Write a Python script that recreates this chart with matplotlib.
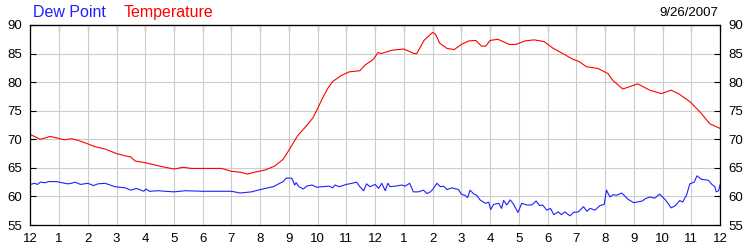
import matplotlib
matplotlib.use("Agg")
import matplotlib.pyplot as plt

plt.rcParams['font.family'] = ['Liberation Sans', 'DejaVu Sans']

hour_labels = ['12', '1', '2', '3', '4', '5', '6', '7', '8', '9', '10', '11',
               '12', '1', '2', '3', '4', '5', '6', '7', '8', '9', '10', '11', '12']
y_ticks = [55, 60, 65, 70, 75, 80, 85, 90]
date_text = "9/26/2007"

temp_hours = [0, 0.15, 0.34, 0.5, 0.69, 0.95, 1.18, 1.44, 1.67, 2.0, 2.25, 2.6, 3.0, 3.3, 3.5,
              3.65, 4.0, 4.34, 4.69, 5.0, 5.32, 5.61, 6.0, 6.31, 6.66, 7.0, 7.35, 7.56, 7.76,
              8.16, 8.5, 8.8, 9.0, 9.3, 9.53, 9.83, 10.0, 10.17, 10.35, 10.52, 10.8, 11.1,
              11.47, 11.65, 11.94, 12.1, 12.2, 12.6, 13.0, 13.35, 13.45, 13.7, 14.0, 14.1,
              14.25, 14.5, 14.75, 15.0, 15.25, 15.5, 15.7, 15.85, 16.0, 16.27, 16.67, 16.9,
              17.2, 17.53, 17.88, 18.17, 18.53, 18.88, 19.1, 19.35, 19.75, 20.1, 20.27,
              20.62, 20.85, 21.14, 21.55, 21.96, 22.3, 22.55, 22.95, 23.3, 23.65, 24.0]
temp_values = [70.8, 70.5, 70.0, 70.2, 70.5, 70.2, 69.9, 70.1, 69.8, 69.2, 68.7, 68.3, 67.5,
               67.1, 66.9, 66.2, 65.9, 65.5, 65.1, 64.8, 65.1, 64.9, 64.9, 64.9, 64.9, 64.4,
               64.2, 63.9, 64.2, 64.6, 65.3, 66.5, 68.1, 70.6, 71.9, 73.7, 75.4, 77.2, 78.9,
               80.1, 81.1, 81.8, 82.0, 83.0, 84.0, 85.2, 85.0, 85.6, 85.8, 85.0, 85.0, 87.3,
               88.7, 88.4, 86.8, 85.9, 85.7, 86.6, 87.2, 87.3, 86.3, 86.3, 87.3, 87.5, 86.6,
               86.6, 87.2, 87.4, 87.1, 86.0, 85.0, 84.0, 83.6, 82.7, 82.4, 81.5, 80.3, 78.8,
               79.2, 79.7, 78.6, 78.0, 78.6, 78.0, 76.6, 74.8, 72.7, 71.9]

dew_hours = [0, 0.15, 0.25, 0.35, 0.5, 0.65, 0.9, 1.1, 1.3, 1.44, 1.55, 1.75, 2.0, 2.2, 2.35,
             2.6, 2.95, 3.3, 3.5, 3.7, 3.95, 4.02, 4.15, 4.45, 4.7, 5.0, 5.4, 6.0, 6.5, 7.0,
             7.3, 7.7, 8.0, 8.45, 8.8, 8.9, 9.1, 9.2, 9.25, 9.35, 9.5, 9.62, 9.8, 9.97, 10.15,
             10.4, 10.52, 10.6, 10.75, 11.0, 11.2, 11.35, 11.47, 11.6, 11.7, 11.82, 12.0,
             12.12, 12.23, 12.35, 12.44, 12.52, 12.7, 12.93, 13.04, 13.2, 13.33, 13.5, 13.68,
             13.8, 13.92, 14.0, 14.15, 14.27, 14.38, 14.5, 14.67, 14.9, 15.0, 15.12, 15.22,
             15.3, 15.42, 15.53, 15.65, 15.83, 15.95, 16.02, 16.12, 16.3, 16.4, 16.47, 16.58,
             16.7, 16.82, 16.97, 17.1, 17.28, 17.45, 17.6, 17.72, 17.83, 17.97, 18.1, 18.22,
             18.37, 18.48, 18.6, 18.78, 18.9, 19.07, 19.25, 19.37, 19.48, 19.65, 19.82, 19.97,
             20.05, 20.17, 20.28, 20.4, 20.58, 20.8, 21.0, 21.3, 21.4, 21.56, 21.73, 21.9,
             22.1, 22.3, 22.45, 22.6, 22.7, 22.84, 22.95, 23.1, 23.2, 23.35, 23.5, 23.6,
             23.72, 23.82, 23.87, 23.95, 24.0]
dew_values = [62.1, 62.3, 62.1, 62.5, 62.4, 62.6, 62.6, 62.4, 62.2, 62.3, 62.5, 62.1, 62.3,
              61.9, 62.2, 62.3, 61.7, 61.5, 61.1, 61.4, 60.9, 61.3, 60.9, 61.0, 60.9, 60.8,
              61.0, 60.9, 60.9, 60.9, 60.6, 60.8, 61.2, 61.7, 62.6, 63.2, 63.2, 62.0, 62.4,
              61.7, 61.3, 61.8, 62.0, 61.6, 61.7, 61.8, 61.5, 62.0, 61.7, 62.1, 62.3, 62.5,
              61.7, 61.0, 62.2, 61.7, 62.1, 61.4, 62.3, 61.0, 62.3, 61.7, 61.8, 62.0, 61.8,
              62.3, 60.8, 60.8, 61.1, 60.5, 60.8, 61.2, 62.3, 61.7, 61.8, 61.2, 61.5, 61.2,
              60.4, 60.2, 59.8, 61.1, 60.5, 60.2, 59.4, 58.8, 59.0, 57.7, 58.6, 58.8, 57.9,
              59.3, 58.5, 59.4, 58.6, 57.2, 58.8, 58.5, 58.5, 59.2, 58.4, 58.5, 57.6, 57.9,
              56.8, 57.3, 56.8, 57.3, 56.6, 57.2, 57.3, 58.2, 57.4, 57.9, 57.6, 58.4, 58.6,
              61.1, 59.9, 60.3, 60.2, 60.6, 59.5, 58.9, 59.2, 59.6, 59.9, 59.7, 60.4, 59.4,
              58.0, 58.4, 59.3, 59.0, 60.3, 62.2, 62.5, 63.6, 63.0, 62.9, 62.8, 62.1, 61.7,
              60.8, 61.0, 62.0]

fig = plt.figure(figsize=(7.5, 2.5), dpi=100)
ax = fig.add_axes([30.3 / 750, 0.1, (720 - 30.3) / 750, 0.8])

ax.plot(temp_hours, temp_values, color='#ff0000', linewidth=0.8)
ax.plot(dew_hours, dew_values, color='#2020ff', linewidth=0.8)

ax.set_xlim(0, 24)
ax.set_ylim(55, 90)
ax.set_xticks(range(25))
ax.set_xticklabels(hour_labels)
ax.set_yticks(y_ticks)
ax.set_yticklabels([str(v) for v in y_ticks])
ax.grid(True, color='#cccccc', linewidth=0.8)
ax.set_axisbelow(True)

for s in ax.spines.values():
    s.set_color('black')
    s.set_linewidth(0.9)

ax.tick_params(axis='x', which='both', direction='in', length=0, labelsize=9.5,
               pad=6, top=False, bottom=True)
ax.tick_params(axis='y', which='both', direction='in', length=4, labelsize=9.5,
               pad=6, left=True, right=True, labelleft=True, labelright=True)
# top ticks
ax2 = ax.secondary_xaxis('top')
ax2.set_xticks(range(25))
ax2.tick_params(direction='in', length=4, labeltop=False, color='black')
ax2.set_xticklabels([])

fig.text(33 / 750, 1 - 12.5 / 250, "Dew Point", color='#2020ff', fontsize=11.5,
         ha='left', va='center')
fig.text(124 / 750, 1 - 12.5 / 250, "Temperature", color='#ff0000', fontsize=11.5,
         ha='left', va='center')
fig.text(718 / 750, 1 - 12.5 / 250, date_text, color='black', fontsize=9.5,
         ha='right', va='center')

fig.savefig("out.png", dpi=100)
